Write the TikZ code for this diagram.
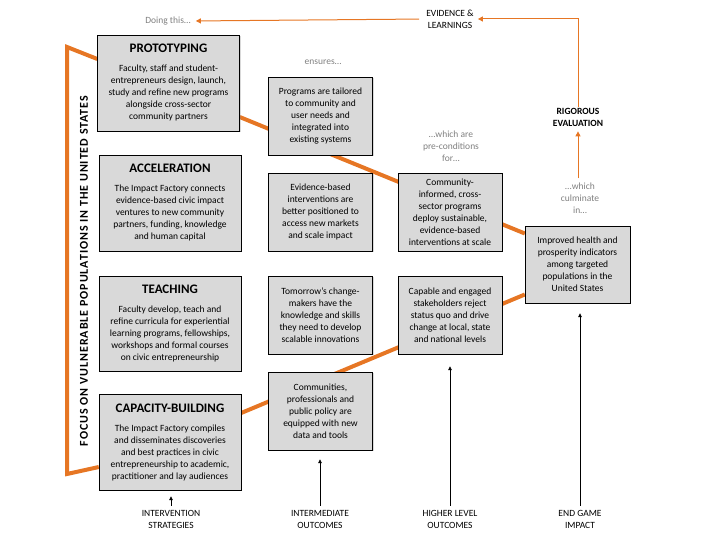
\documentclass[tikz,border=0pt]{standalone}
\usepackage{fontspec}
\setmainfont{Carlito}
\usetikzlibrary{arrows.meta,shadows,backgrounds}

\definecolor{boxgray}{RGB}{217,217,217}
\definecolor{impactorange}{RGB}{230,118,36}
\definecolor{notegray}{RGB}{128,128,128}
\newcommand{\boxhead}[1]{{\fontsize{13}{15}\selectfont\bfseries #1}\\[7pt]}

\begin{document}
\begin{tikzpicture}[x=1pt, y=-1pt,
  stratbox/.style={draw, fill=boxgray, align=center, inner sep=0pt, minimum width=142pt, minimum height=96pt,
    font=\fontsize{9.5}{12}\selectfont, drop shadow={shadow xshift=1.2pt, shadow yshift=-1.2pt, opacity=0.3}},
  outbox/.style={stratbox, minimum width=104pt, minimum height=78pt},
  note/.style={text=notegray, align=center, inner sep=1pt, font=\fontsize{9.5}{12}\selectfont},
  coltag/.style={align=center, inner sep=1pt, font=\fontsize{9.5}{12}\selectfont},
  focusline/.style={draw=impactorange, line width=4pt, line join=miter},
  evarrow/.style={draw=impactorange, line width=1pt, -{Triangle[length=5pt,width=5pt]}},
  tagarrow/.style={draw=black, line width=0.7pt, -{Triangle[length=4pt,width=3.5pt]}}
]
  \useasboundingbox (0,0) rectangle (720,540);

  % intervention strategies
  \node[stratbox] (proto) at (168.5,83) {\boxhead{PROTOTYPING}Faculty, staff and student-\\entrepreneurs design, launch,\\study and refine new programs\\alongside cross-sector\\community partners};
  \node[stratbox] (accel) at (170,203) {\boxhead{ACCELERATION}The Impact Factory connects\\evidence-based civic impact\\ventures to new community\\partners, funding, knowledge\\and human capital};
  \node[stratbox, minimum height=95pt] (teach) at (170,323.5) {\boxhead{TEACHING}Faculty develop, teach and\\refine curricula for experiential\\learning programs, fellowships,\\workshops and formal courses\\on civic entrepreneurship};
  \node[stratbox] (capbuild) at (170,442) {\boxhead{CAPACITY-BUILDING}The Impact Factory compiles\\and disseminates discoveries\\and best practices in civic\\entrepreneurship to academic,\\practitioner and lay audiences};

  % intermediate outcomes
  \node[outbox] (tailor) at (320.5,116) {Programs are tailored\\to community and\\user needs and\\integrated into\\existing systems};
  \node[outbox] (scale) at (320.5,212) {Evidence-based\\interventions are\\better positioned to\\access new markets\\and scale impact};
  \node[outbox] (change) at (320.5,315) {Tomorrow’s change-\\makers have the\\knowledge and skills\\they need to develop\\scalable innovations};
  \node[outbox] (equip) at (320.5,411) {Communities,\\professionals and\\public policy are\\equipped with new\\data and tools};

  % higher level outcomes
  \node[outbox] (deploy) at (450,212) {Community-\\informed, cross-\\sector programs\\deploy sustainable,\\evidence-based\\interventions at scale};
  \node[outbox] (engage) at (450,315) {Capable and engaged\\stakeholders reject\\status quo and drive\\change at local, state\\and national levels};

  % end game
  \node[outbox, minimum width=105pt, minimum height=77pt] (impact) at (577.5,264.5) {Improved health and\\prosperity indicators\\among targeted\\populations in the\\United States};

  \node[rotate=90, inner sep=0pt, font=\fontsize{12}{14}\selectfont\bfseries\addfontfeatures{LetterSpace=8}] (focus) at (84,271) {FOCUS ON VULNERABLE POPULATIONS IN THE UNITED STATES};

  % orange paths behind the boxes
  \coordinate (ftop) at (67,47);
  \coordinate (fbot) at (67,474);
  \begin{pgfonlayer}{background}
    \draw[focusline] ([yshift=24pt]proto.west) -- (ftop) -- (fbot) -- ([yshift=-25pt]capbuild.west);
    \draw[focusline] ([yshift=-34pt]proto.east) -- ([yshift=31pt]impact.west);
    \draw[focusline] ([yshift=29pt]capbuild.east) -- ([yshift=-30pt]impact.west);
  \end{pgfonlayer}

  % notes and feedback loop
  \node[note] (doing) at (168,21) {Doing this…};
  \node[coltag] (evid) at (450,19) {EVIDENCE \&\\LEARNINGS};
  \node[coltag, font=\fontsize{9.5}{12}\selectfont\bfseries] (rigor) at (578,117) {RIGOROUS\\EVALUATION};
  \node[note] (ensures) at (323,62) {ensures…};
  \node[note] (precond) at (451,146) {…which are\\pre-conditions\\for…};
  \node[note] (culmin) at (580,198) {…which\\culminate\\in…};

  \draw[evarrow, shorten >=3pt] (rigor.north) |- (evid.east);
  \draw[evarrow, shorten <=6pt, shorten >=4pt] (evid.west) -- (doing.east);
  \draw[evarrow, shorten <=3pt, shorten >=4pt] (culmin.north -| rigor.south) -- (rigor.south);

  % column tags
  \node[coltag] (tagint) at (171,519) {INTERVENTION\\STRATEGIES};
  \node[coltag] (tagmid) at (320,519) {INTERMEDIATE\\OUTCOMES};
  \node[coltag] (taghigh) at (450,519) {HIGHER LEVEL\\OUTCOMES};
  \node[coltag] (tagend) at (580,519) {END GAME\\IMPACT};

  \draw[tagarrow] ([yshift=3pt]tagint.north) -- ([yshift=-6pt]tagint.north |- capbuild.south);
  \draw[tagarrow] ([yshift=3pt]tagmid.north) -- ([yshift=-9pt]tagmid.north |- equip.south);
  \draw[tagarrow] ([yshift=3pt]taghigh.north) -- ([yshift=-12pt]taghigh.north |- engage.south);
  \draw[tagarrow] ([yshift=3pt]tagend.north) -- ([yshift=-10pt]tagend.north |- impact.south);
\end{tikzpicture}
\end{document}
